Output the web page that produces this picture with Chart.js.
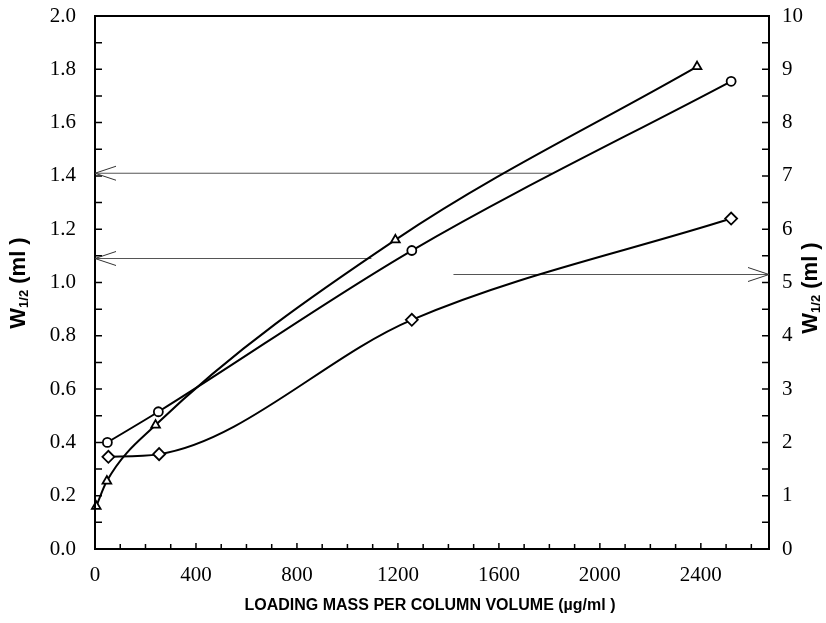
<!DOCTYPE html>
<html><head><meta charset="utf-8">
<script src="https://cdn.jsdelivr.net/npm/chart.js@4/dist/chart.umd.min.js"></script>
<style>html,body{margin:0;padding:0;background:#fff}#wrap{width:826px;height:623px}</style>
</head><body><div id="wrap"><canvas id="c" width="826" height="623"></canvas></div>
<script>
// ---- data ----
const triX = [5, 47, 240, 1190, 2385];
const triY = [0.16, 0.255, 0.465, 1.16, 1.81];        // left axis
const cirX = [49, 251, 1255, 2520];
const cirY = [0.40, 0.515, 1.12, 1.755];              // left axis
const diaX = [53, 254, 1255, 2520];
const diaY = [1.73, 1.78, 4.3, 6.2];                  // right axis
const arrowUpperX = [0, 1810];  const arrowUpperY = [1.41, 1.41];   // left axis, points left
const arrowLowerX = [0, 1095];  const arrowLowerY = [1.09, 1.09];   // left axis, points left
const arrowRightX = [1420, 2670]; const arrowRightY = [5.15, 5.15]; // right axis, points right
const xTickLabels = [0, 400, 800, 1200, 1600, 2000, 2400];
const yLeftTickLabels = [0, 0.2, 0.4, 0.6, 0.8, 1.0, 1.2, 1.4, 1.6, 1.8, 2.0];
const yRightTickLabels = [0, 1, 2, 3, 4, 5, 6, 7, 8, 9, 10];
const xMax = 2670;
const xMinorTicks = []; for (let v = 100; v <= 2600; v += 100) xMinorTicks.push(v);
const yLeftMinorTicks = []; for (let i = 1; i < 20; i++) yLeftMinorTicks.push(i / 10);
const yRightMinorTicks = []; for (let i = 1; i < 20; i++) yRightMinorTicks.push(i / 2);

const pts = (xs, ys) => xs.map((x, i) => ({x: x, y: ys[i]}));
const tickFont = {family: 'Liberation Serif', size: 21};

const markerBase = {
  type: 'line', borderColor: '#000', borderWidth: 2, pointBackgroundColor: '#fff',
  pointBorderColor: '#000', pointBorderWidth: 1.8, cubicInterpolationMode: 'monotone',
  fill: false, clip: false
};
const arrowBase = {
  type: 'line', borderColor: '#555', borderWidth: 1, pointRadius: 0, tension: 0, fill: false
};

const decor = {
  id: 'decor',
  afterDraw(chart) {
    const ctx = chart.ctx, a = chart.chartArea;
    const sx = chart.scales.x, sy = chart.scales.y, sy2 = chart.scales.y2;
    ctx.save();
    // frame
    ctx.strokeStyle = '#000'; ctx.lineWidth = 2;
    ctx.strokeRect(a.left, a.top, a.right - a.left, a.bottom - a.top);
    // inward ticks
    ctx.lineWidth = 1.5;
    ctx.beginPath();
    xMinorTicks.forEach(v => { const p = sx.getPixelForValue(v); ctx.moveTo(p, a.bottom); ctx.lineTo(p, a.bottom - (v % 400 === 0 ? 6 : 5)); });
    yLeftMinorTicks.forEach(v => { const p = sy.getPixelForValue(v); ctx.moveTo(a.left, p); ctx.lineTo(a.left + 7, p); });
    yRightMinorTicks.forEach(v => { const p = sy2.getPixelForValue(v); ctx.moveTo(a.right, p); ctx.lineTo(a.right - 7, p); });
    ctx.stroke();
    // arrowheads
    ctx.strokeStyle = '#333'; ctx.lineWidth = 1;
    const head = (pt, dir) => {
      ctx.beginPath();
      ctx.moveTo(pt.x + dir * 21, pt.y - 7); ctx.lineTo(pt.x, pt.y); ctx.lineTo(pt.x + dir * 21, pt.y + 7);
      ctx.stroke();
    };
    head(chart.getDatasetMeta(3).data[0], 1);
    head(chart.getDatasetMeta(4).data[0], 1);
    head(chart.getDatasetMeta(5).data[1], -1);
    // axis titles
    ctx.fillStyle = '#000';
    const drawW = (cx, cy) => {
      ctx.save();
      ctx.translate(cx, cy); ctx.rotate(-Math.PI / 2);
      const big = 'bold 22px "Liberation Sans"', small = 'bold 13px "Liberation Sans"';
      ctx.font = big; const w1 = ctx.measureText('W').width; const w3 = ctx.measureText(' (ml )').width;
      ctx.font = small; const w2 = ctx.measureText('1/2').width;
      let x = -(w1 + w2 + w3) / 2;
      ctx.textBaseline = 'middle'; ctx.textAlign = 'left';
      ctx.font = big; ctx.fillText('W', x, 0); x += w1;
      ctx.font = small; ctx.fillText('1/2', x, 5); x += w2;
      ctx.font = big; ctx.fillText(' (ml )', x, 0);
      ctx.restore();
    };
    drawW(19, 283);
    drawW(811, 288);
    ctx.font = 'bold 16px "Liberation Sans"'; ctx.textAlign = 'center'; ctx.textBaseline = 'middle';
    ctx.fillText('LOADING MASS PER COLUMN VOLUME (\u00b5g/ml )', 430, 606);
    ctx.restore();
  }
};

new Chart(document.getElementById('c'), {
  type: 'line',
  data: {
    datasets: [
      Object.assign({}, markerBase, {label: 'triangle', data: pts(triX, triY), yAxisID: 'y', pointStyle: 'triangle', pointRadius: 5}),
      Object.assign({}, markerBase, {label: 'circle', data: pts(cirX, cirY), yAxisID: 'y', pointStyle: 'circle', pointRadius: 4.5}),
      Object.assign({}, markerBase, {label: 'diamond', data: pts(diaX, diaY), yAxisID: 'y2', pointStyle: 'rectRot', pointRadius: 6}),
      Object.assign({}, arrowBase, {label: 'a1', data: pts(arrowUpperX, arrowUpperY), yAxisID: 'y'}),
      Object.assign({}, arrowBase, {label: 'a2', data: pts(arrowLowerX, arrowLowerY), yAxisID: 'y'}),
      Object.assign({}, arrowBase, {label: 'a3', data: pts(arrowRightX, arrowRightY), yAxisID: 'y2'})
    ]
  },
  options: {
    responsive: false, animation: false, devicePixelRatio: 1,
    layout: {padding: {top: 16, left: 0, right: 0, bottom: 0}},
    plugins: {legend: {display: false}, tooltip: {enabled: false}},
    scales: {
      x: {
        type: 'linear', position: 'bottom', min: 0, max: xMax,
        afterBuildTicks: s => { s.ticks = xTickLabels.map(v => ({value: v})); },
        afterFit: s => { s.height = 74; s.paddingLeft = 0; s.paddingRight = 0; },
        ticks: {font: tickFont, color: '#000', padding: 14, maxRotation: 0, autoSkip: false, callback: v => String(v)},
        grid: {display: false, drawTicks: false}, border: {display: false}
      },
      y: {
        type: 'linear', position: 'left', min: 0, max: 2,
        afterBuildTicks: s => { s.ticks = yLeftTickLabels.map(v => ({value: v})); },
        afterFit: s => { s.width = 95; s.paddingTop = 0; s.paddingBottom = 0; },
        ticks: {font: tickFont, color: '#000', padding: 19, autoSkip: false, callback: v => Number(v).toFixed(1)},
        grid: {display: false, drawTicks: false}, border: {display: false}
      },
      y2: {
        type: 'linear', position: 'right', min: 0, max: 10,
        afterBuildTicks: s => { s.ticks = yRightTickLabels.map(v => ({value: v})); },
        afterFit: s => { s.width = 57; s.paddingTop = 0; s.paddingBottom = 0; },
        ticks: {font: tickFont, color: '#000', padding: 13, autoSkip: false, callback: v => String(v)},
        grid: {display: false, drawTicks: false}, border: {display: false}
      }
    }
  },
  plugins: [decor]
});
</script>
</body></html>
